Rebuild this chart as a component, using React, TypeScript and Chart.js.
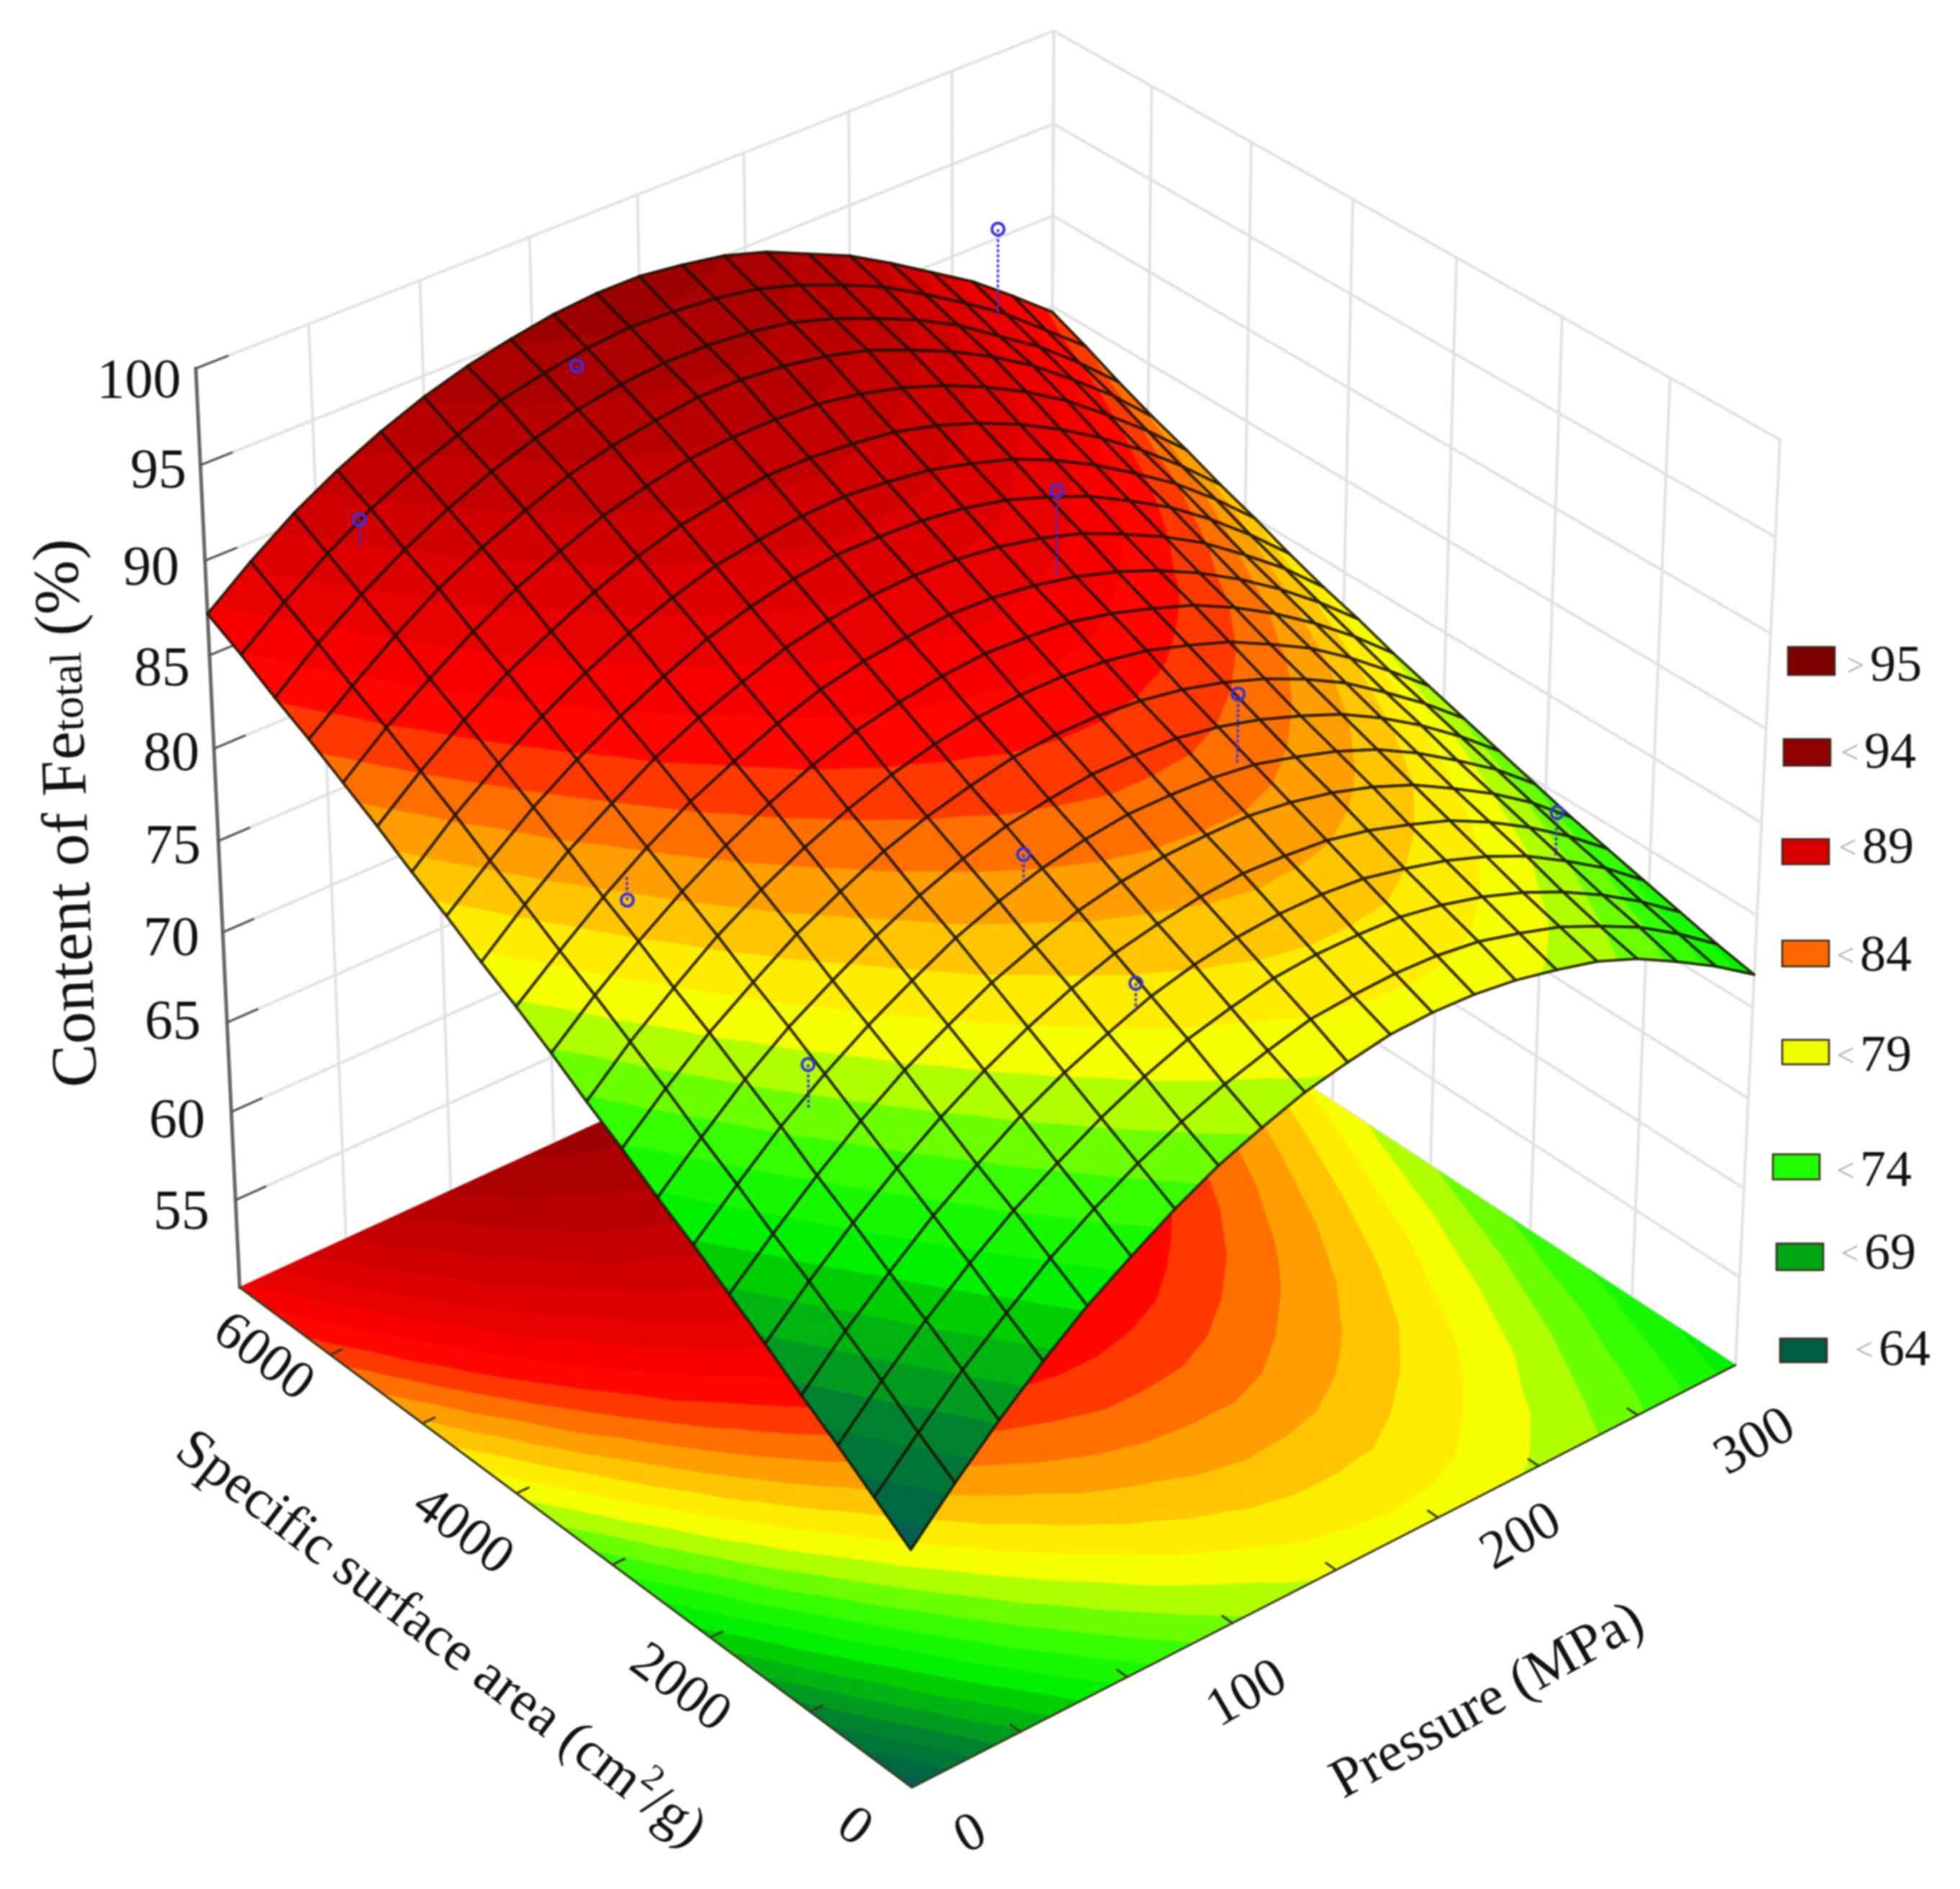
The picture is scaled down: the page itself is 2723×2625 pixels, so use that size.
import React, { useEffect, useRef } from "react";
import { Chart, registerables } from "chart.js";
Chart.register(...registerables);

const W = 2723, H = 2625;
const FONT = "'Liberation Serif'";
const P_MAX = 300, S_MAX = 6000, Z_MIN = 50, Z_MAX = 100, N = 20;

// Surface heights: one row per specific surface area
// (0, 300, ... 6000 cm2/g), one column per pressure (0, 15, ... 300 MPa).
const zGrid: number[][] = [
  [63.0,65.4,67.6,69.6,71.4,72.9,74.3,75.5,76.4,77.2,77.7,78.1,78.2,78.1,77.8,77.3,76.7,75.8,74.6,73.3,71.8],
  [64.4,66.7,68.9,70.8,72.6,74.1,75.4,76.5,77.4,78.1,78.7,78.9,79.0,78.9,78.6,78.0,77.3,76.3,75.2,73.8,72.2],
  [65.8,68.1,70.2,72.1,73.8,75.2,76.5,77.6,78.5,79.1,79.6,79.8,79.8,79.7,79.3,78.7,77.9,76.9,75.7,74.3,72.7],
  [67.1,69.4,71.4,73.3,74.9,76.4,77.6,78.6,79.5,80.1,80.5,80.7,80.7,80.5,80.0,79.4,78.6,77.6,76.3,74.9,73.2],
  [68.5,70.7,72.7,74.5,76.1,77.5,78.7,79.7,80.5,81.0,81.4,81.6,81.5,81.3,80.8,80.1,79.3,78.2,76.9,75.4,73.7],
  [69.8,71.9,73.9,75.7,77.3,78.6,79.8,80.7,81.5,82.0,82.3,82.4,82.4,82.1,81.6,80.9,80.0,78.8,77.5,76.0,74.2],
  [71.1,73.2,75.2,76.9,78.4,79.7,80.9,81.8,82.5,83.0,83.3,83.3,83.2,82.9,82.3,81.6,80.7,79.5,78.1,76.6,74.8],
  [72.3,74.4,76.4,78.1,79.5,80.8,81.9,82.8,83.5,83.9,84.2,84.2,84.1,83.7,83.1,82.3,81.4,80.2,78.8,77.2,75.4],
  [73.6,75.7,77.6,79.2,80.7,81.9,83.0,83.8,84.4,84.9,85.1,85.1,84.9,84.5,83.9,83.1,82.1,80.9,79.4,77.8,76.0],
  [74.8,76.9,78.7,80.4,81.8,83.0,84.0,84.8,85.4,85.8,86.0,86.0,85.8,85.4,84.7,83.9,82.8,81.6,80.1,78.4,76.6],
  [76.1,78.1,79.9,81.5,82.9,84.1,85.1,85.9,86.4,86.8,87.0,86.9,86.7,86.2,85.5,84.7,83.6,82.3,80.8,79.1,77.2],
  [77.3,79.2,81.0,82.6,84.0,85.1,86.1,86.9,87.4,87.7,87.9,87.8,87.5,87.0,86.3,85.4,84.3,83.0,81.5,79.8,77.9],
  [78.4,80.4,82.2,83.7,85.1,86.2,87.1,87.9,88.4,88.7,88.8,88.7,88.4,87.9,87.2,86.2,85.1,83.8,82.2,80.5,78.5],
  [79.6,81.5,83.3,84.8,86.1,87.2,88.2,88.9,89.4,89.7,89.7,89.6,89.3,88.8,88.0,87.1,85.9,84.6,83.0,81.2,79.2],
  [80.7,82.7,84.4,85.9,87.2,88.3,89.2,89.9,90.3,90.6,90.7,90.5,90.2,89.6,88.9,87.9,86.7,85.3,83.8,82.0,80.0],
  [81.9,83.8,85.5,87.0,88.2,89.3,90.2,90.9,91.3,91.6,91.6,91.4,91.1,90.5,89.7,88.7,87.5,86.1,84.5,82.7,80.7],
  [83.0,84.9,86.5,88.0,89.3,90.3,91.2,91.8,92.3,92.5,92.5,92.4,92.0,91.4,90.6,89.6,88.4,87.0,85.3,83.5,81.5],
  [84.1,85.9,87.6,89.1,90.3,91.3,92.2,92.8,93.2,93.5,93.5,93.3,92.9,92.3,91.4,90.4,89.2,87.8,86.1,84.3,82.2],
  [85.1,87.0,88.6,90.0,91.2,92.2,93.0,93.6,94.0,94.2,94.2,94.0,93.6,92.9,92.0,91.0,89.8,88.3,86.8,85.0,83.0],
  [86.2,88.0,89.6,91.0,92.1,93.0,93.9,94.4,94.8,95.0,94.9,94.7,94.3,93.6,92.7,91.7,90.4,89.0,87.5,85.7,83.9],
  [87.2,89.0,90.6,91.9,93.0,93.9,94.6,95.1,95.5,95.7,95.7,95.4,95.0,94.3,93.3,92.3,91.0,89.6,88.2,86.5,84.7],
];

const pointPressure = [41, 114, 267, 188, 187.5, 264, 111, 38, 112, 39.4];
const pointArea = [5700, 5640, 5700, 3300, 1770, 858, 1740, 3300, 840, 1800];
const pointTop = [90.7, 94.45, 92.3, 92.0, 87.25, 79.5, 84.1, 80.3, 81.0, 77.8];
const pointBase = [89.3, 94.1, 87.6, 87.6, 83.6, 77.2, 82.5, 81.6, 79.5, 75.5];

const zTickValues = [55, 60, 65, 70, 75, 80, 85, 90, 95, 100];
const zTickLabels: [string, number, number][] = [
  ["55", 252, 1687], ["60", 246, 1560], ["65", 240, 1423], ["70", 238, 1307], ["75", 240, 1179],
  ["80", 238, 1050], ["85", 225, 932], ["90", 210, 792], ["95", 220, 657], ["100", 193, 532],
];
const legendEntries: [string, string, string, number, number, number, number, number][] = [
  [">", "95", "#7d0000", 2484, 899, 65, 39, 2634],
  ["<", "94", "#8f0000", 2478, 1027, 65, 37, 2626],
  ["<", "89", "#d80000", 2476, 1166, 65, 35, 2623],
  ["<", "84", "#ff6a00", 2476, 1307, 65, 36, 2620],
  ["<", "79", "#eeff00", 2476, 1445, 65, 34, 2620],
  ["<", "74", "#1eff00", 2463, 1604, 65, 35, 2620],
  ["<", "69", "#00a514", 2468, 1728, 65, 37, 2626],
  ["<", "64", "#005f42", 2473, 1860, 65, 33, 2646],
];
const legendY = [927, 1048, 1180, 1330, 1469, 1629, 1744, 1878];
const floorTickLabels: [string, number, number, number][] = [
  ["6000", 365, 1887, 37], ["4000", 642, 2129, 37], ["2000", 944, 2347, 37], ["0", 1186, 2540, 37],
  ["0", 1349, 2550, -27], ["100", 1733, 2355, -30], ["200", 2114, 2137, -30], ["300", 2439, 2005, -30],
];

// frame anchors: [p, s, w] -> [px, py]
const FRAME: number[][] = [
  [0, 1, 1, 272, 512], [0, 1, 0, 333, 1789], [1, 0, 1, 2473, 611], [1, 0, 0, 2411, 1897],
  [1, 1, 1, 1464, 43], [1, 1, 0, 1458, 1273], [0, 0, 0, 1267, 2484],
];
function solveProjection() {
  const A: number[][] = [], b: number[] = [];
  for (const [p, s, w, x0, y0] of FRAME) {
    const x = x0 / 1000, y = y0 / 1000;
    A.push([p, s, w, 1, 0, 0, 0, 0, -x * p, -x * s, -x * w]); b.push(x);
    A.push([0, 0, 0, 0, p, s, w, 1, -y * p, -y * s, -y * w]); b.push(y);
  }
  const n = 11;
  const M = Array.from({ length: n }, (_, r) => {
    const row = new Array(n + 1).fill(0);
    for (let c = 0; c < n; c++) for (let k = 0; k < A.length; k++) row[c] += A[k][r] * A[k][c];
    for (let k = 0; k < A.length; k++) row[n] += A[k][r] * b[k];
    return row;
  });
  for (let c = 0; c < n; c++) {
    let best = c;
    for (let r = c + 1; r < n; r++) if (Math.abs(M[r][c]) > Math.abs(M[best][c])) best = r;
    [M[c], M[best]] = [M[best], M[c]];
    for (let r = 0; r < n; r++) {
      if (r === c) continue;
      const f = M[r][c] / M[c][c];
      for (let k = c; k <= n; k++) M[r][k] -= f * M[c][k];
    }
  }
  return M.map((row, i) => row[n] / row[i]);
}
const m = solveProjection();
function project0(p: number, s: number, w: number) {
  const d = m[8] * p + m[9] * s + m[10] * w + 1;
  return {
    x: (1000 * (m[0] * p + m[1] * s + m[2] * w + m[3])) / d,
    y: (1000 * (m[4] * p + m[5] * s + m[6] * w + m[7])) / d,
  };
}
const residual: number[][] = FRAME.map(([p, s, w, x, y]) => {
  const q = project0(p, s, w);
  return [p, s, w, x - q.x, y - q.y];
});
residual.push([0, 0, 1, residual[6][3], residual[6][4]]);
function project(p: number, s: number, z: number) {
  const w = (z - Z_MIN) / (Z_MAX - Z_MIN);
  const q = project0(p, s, w);
  let dx = 0, dy = 0;
  for (const [a, b, c, rx, ry] of residual) {
    const f = (a ? p : 1 - p) * (b ? s : 1 - s) * (c ? w : 1 - w);
    dx += f * rx; dy += f * ry;
  }
  return { x: q.x + dx, y: q.y + dy };
}

const ramp: [number, string][] = [
  [60, "#0a5060"], [62.5, "#0a5a5a"], [64.5, "#006a40"], [66.8, "#008030"], [68.8, "#00a818"], [70.8, "#00d000"],
  [71.8, "#00f000"], [72.8, "#10f800"], [74.8, "#40ff00"], [76.3, "#90ff00"], [77.3, "#c8ff00"], [78, "#f4ff00"], [78.8, "#ffff00"],
  [79.8, "#ffe000"], [80.8, "#ffc000"], [81.8, "#ffa000"], [82.8, "#ff8000"], [83.8, "#ff5000"], [84.8, "#ff2800"],
  [85.8, "#ff0000"], [87.5, "#f00000"], [89, "#e00000"], [91, "#cc0000"], [93, "#b80000"], [95, "#a40000"], [97, "#8c0000"], [100, "#700000"],
];
function hex(c: string) { return [1, 3, 5].map((k) => parseInt(c.slice(k, k + 2), 16)); }
function colorAt(z: number) {
  for (let k = 0; k < ramp.length - 1; k++) {
    const [a, ca] = ramp[k], [b, cb] = ramp[k + 1];
    if (z <= b) {
      const t = Math.max(0, (z - a) / (b - a));
      const A = hex(ca), B = hex(cb);
      return `rgb(${A.map((v, i) => Math.round(v + (B[i] - v) * t)).join(",")})`;
    }
  }
  return ramp[ramp.length - 1][1];
}
type V = { p: number; s: number; z: number };
function clip(poly: V[], level: number, keepAbove: boolean): V[] {
  const out: V[] = [];
  for (let k = 0; k < poly.length; k++) {
    const a = poly[k], b = poly[(k + 1) % poly.length];
    const ina = keepAbove ? a.z >= level : a.z <= level;
    const inb = keepAbove ? b.z >= level : b.z <= level;
    if (ina) out.push(a);
    if (ina !== inb) {
      const t = (level - a.z) / (b.z - a.z);
      out.push({ p: a.p + (b.p - a.p) * t, s: a.s + (b.s - a.s) * t, z: level });
    }
  }
  return out;
}
const BAND = 1.25, BAND0 = 60;

const surfacePlugin = {
  id: "surfacePlot",
  beforeDatasetsDraw(chart: any) {
    const { ctx, scales } = chart;
    const pt = (p: number, s: number, z: number) => {
      const q = project(p, s, z);
      return [scales.x.getPixelForValue(q.x), scales.y.getPixelForValue(q.y)];
    };
    const line = (pts: number[][], color: string, width: number) => {
      ctx.beginPath();
      pts.forEach((q, k) => (k ? ctx.lineTo(q[0], q[1]) : ctx.moveTo(q[0], q[1])));
      ctx.strokeStyle = color; ctx.lineWidth = width; ctx.stroke();
    };
    ctx.save();
    ctx.lineJoin = "round"; ctx.lineCap = "round";
    // walls
    const wall = "#e2e2e2";
    for (let k = 0; k <= 8; k++) line([pt(k / 8, 1, Z_MIN), pt(k / 8, 1, Z_MAX)], wall, 4);
    for (let k = 0; k <= 7; k++) line([pt(1, k / 7, Z_MIN), pt(1, k / 7, Z_MAX)], wall, 4);
    for (const z of [...zTickValues, Z_MIN]) {
      line([pt(0, 1, z), pt(1, 1, z), pt(1, 0, z)], wall, 4);
    }
    // dark z axis with ticks
    line([pt(0, 1, Z_MIN), pt(0, 1, Z_MAX)], "#666", 5);
    for (const z of zTickValues) line([pt(0, 1, z), pt(0.035, 1, z)], "#555", 3);
    // bands
    const paint = (tri: V[], lift: boolean) => {
      const zs = tri.map((v) => v.z);
      const lo = Math.floor((Math.min(...zs) - BAND0) / BAND), hi = Math.floor((Math.max(...zs) - BAND0) / BAND);
      for (let b = lo; b <= hi; b++) {
        const a0 = BAND0 + b * BAND, a1 = a0 + BAND;
        let poly = clip(tri, a0, true);
        if (poly.length) poly = clip(poly, a1, false);
        if (poly.length < 3) continue;
        ctx.beginPath();
        poly.forEach((v, k) => {
          const q = pt(v.p, v.s, lift ? v.z : Z_MIN);
          k ? ctx.lineTo(q[0], q[1]) : ctx.moveTo(q[0], q[1]);
        });
        ctx.closePath();
        const col = colorAt(a0 + BAND / 2);
        ctx.fillStyle = col; ctx.strokeStyle = col; ctx.lineWidth = 1.2;
        ctx.fill(); ctx.stroke();
      }
    };
    const vert = (i: number, j: number): V => ({ p: i / N, s: j / N, z: zGrid[j][i] });
    // floor
    for (let j = 0; j < N; j++) for (let i = 0; i < N; i++) {
      const a = vert(i, j), b = vert(i + 1, j), c = vert(i + 1, j + 1), d = vert(i, j + 1);
      paint([a, b, c], false); paint([a, c, d], false);
    }
    const edge = "#3a3a20";
    line([pt(0, 1, Z_MIN), pt(0, 0, Z_MIN), pt(1, 0, Z_MIN)], edge, 3);
    for (let k = 1; k <= 7; k++) line([pt(k / 8, 0, Z_MIN), pt(k / 8, 0.014, Z_MIN)], edge, 3);
    for (let k = 1; k <= 6; k++) line([pt(0, k / 7, Z_MIN), pt(0.014, k / 7, Z_MIN)], edge, 3);
    // surface, far to near
    for (let i = N - 1; i >= 0; i--) for (let j = N - 1; j >= 0; j--) {
      const a = vert(i, j), b = vert(i + 1, j), c = vert(i + 1, j + 1), d = vert(i, j + 1);
      paint([a, b, c], true); paint([a, c, d], true);
      line([a, b, c, d, a].map((v) => pt(v.p, v.s, v.z)), "rgba(25,18,0,0.85)", 3.8);
    }
    ctx.restore();
  },
  afterDraw(chart: any) {
    const { ctx } = chart;
    ctx.save();
    ctx.fillStyle = "#111";
    ctx.textBaseline = "middle"; ctx.textAlign = "center";
    const rot = (t: string, x: number, y: number, deg: number, size: number) => {
      ctx.save(); ctx.translate(x, y); ctx.rotate((deg * Math.PI) / 180);
      ctx.font = `${size}px ${FONT}`; ctx.fillText(t, 0, 0); ctx.restore();
    };
    for (const [t, x, y] of zTickLabels) rot(t, x, y, 0, 78);
    for (const [t, x, y, d] of floorTickLabels) rot(t, x, y, d, 76);
    // legend
    legendEntries.forEach(([sym, t, col, x, y, w, h, tx], k) => {
      ctx.fillStyle = col; ctx.fillRect(x, y, w, h);
      ctx.strokeStyle = "#3a2a1a"; ctx.lineWidth = 2.5; ctx.strokeRect(x, y, w, h);
      ctx.fillStyle = "#a8a8a8"; rot(sym, tx - 56, legendY[k], 0, 44);
      ctx.fillStyle = "#111"; rot(t, tx, legendY[k], 0, 72);
    });
    // titles
    ctx.fillStyle = "#111"; ctx.textAlign = "left"; ctx.textBaseline = "alphabetic";
    const run = (parts: [string, number, number][]) => {
      let xx = 0;
      for (const [t, size, dy] of parts) {
        ctx.font = `${size}px ${FONT}`;
        ctx.fillText(t, xx, dy);
        xx += ctx.measureText(t).width;
      }
    };
    ctx.save(); ctx.translate(134, 1510); ctx.rotate((-92.1 * Math.PI) / 180);
    run([["Content of Fe", 90, 0], ["total", 62, 0], [" (%)", 90, 0]]);
    ctx.restore();
    ctx.save(); ctx.translate(240, 2022); ctx.rotate((37.3 * Math.PI) / 180);
    run([["Specific surface area (cm", 78, 0], ["2", 50, -32], ["/g)", 78, 0]]);
    ctx.restore();
    ctx.save(); ctx.translate(1866, 2500); ctx.rotate((-29 * Math.PI) / 180);
    run([["Pressure (MPa)", 78, 0]]);
    ctx.restore();
    ctx.restore();
  },
};

export default function App() {
  const ref = useRef<HTMLCanvasElement>(null);
  useEffect(() => {
    document.body.style.margin = "0";
    const stems = pointPressure.map((P, k) => {
      const a = project(P / P_MAX, pointArea[k] / S_MAX, pointTop[k]);
      const b = project(P / P_MAX, pointArea[k] / S_MAX, pointBase[k]);
      return {
        type: "line" as const, data: [a, b], borderColor: "#4030e0", borderWidth: 3.5,
        borderDash: [4, 3], pointRadius: 0, fill: false,
      };
    });
    const chart = new Chart(ref.current!, {
      type: "scatter",
      data: {
        datasets: [
          ...stems,
          {
            type: "scatter" as const,
            data: pointPressure.map((P, k) => project(P / P_MAX, pointArea[k] / S_MAX, pointTop[k])),
            pointRadius: 8.5, pointBorderWidth: 4, pointBorderColor: "#3a30e0",
            pointBackgroundColor: "rgba(0,0,0,0)",
          },
        ] as any,
      },
      options: {
        animation: false, responsive: false, maintainAspectRatio: false,
        layout: { padding: 0, autoPadding: false },
        plugins: { legend: { display: false }, tooltip: { enabled: false } },
        scales: {
          x: { type: "linear", min: 0, max: W, display: false },
          y: { type: "linear", min: 0, max: H, reverse: true, display: false },
        },
      },
      plugins: [surfacePlugin],
    });
    return () => chart.destroy();
  }, []);
  return (
    <div style={{ width: W, height: H, background: "#fff" }}>
      <canvas ref={ref} width={W} height={H} style={{ display: "block", filter: "blur(0.8px)" }} />
    </div>
  );
}
